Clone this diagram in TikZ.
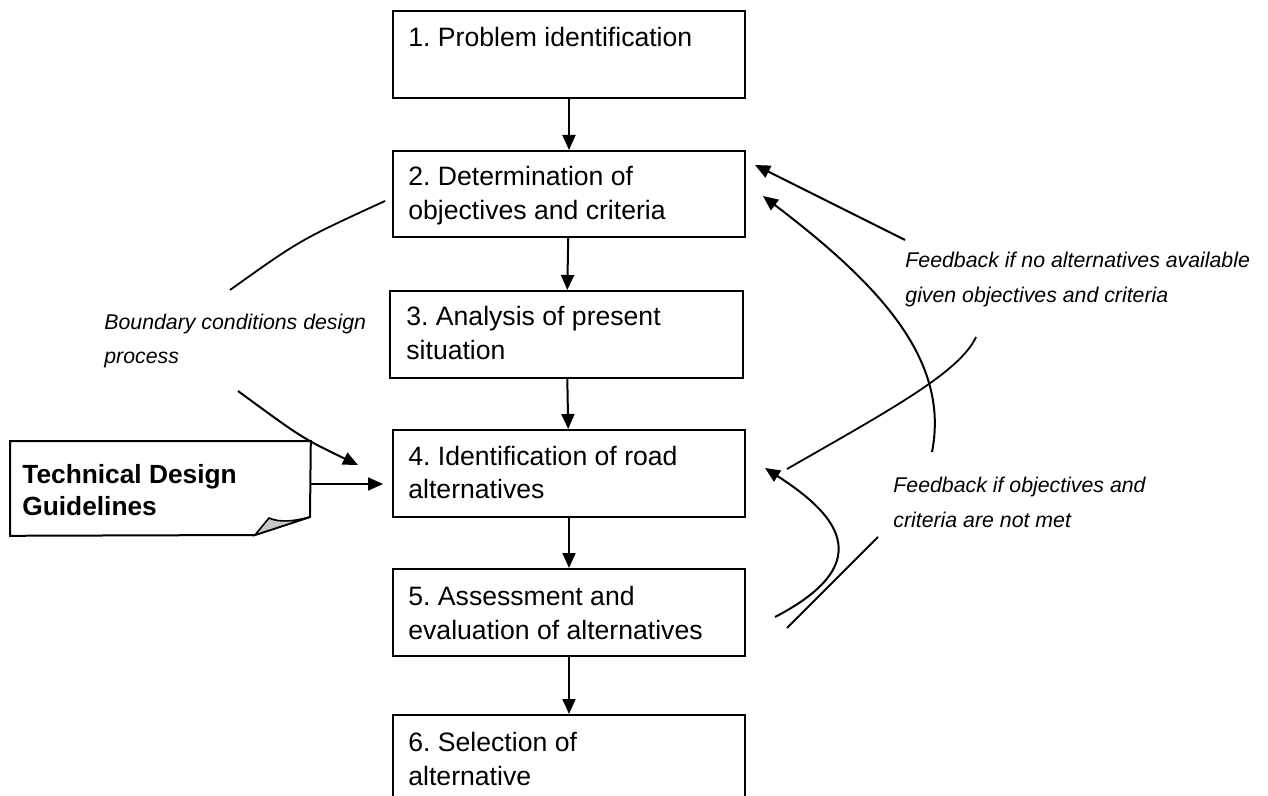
\documentclass[tikz,border=0pt]{standalone}
\usepackage{fontspec}
\setmainfont{Liberation Sans}
\usetikzlibrary{arrows.meta}
\frenchspacing
\newcommand\twolines[1]{\begin{tabular}[t]{@{}l@{}}#1\end{tabular}}
\begin{document}
\begin{tikzpicture}[x=0.5pt,y=-0.5pt,
  box/.style={draw, line width=1pt, rectangle, minimum width=176pt, minimum height=43.5pt, anchor=north west, inner sep=0pt},
  txt/.style={anchor=base west, inner sep=0pt, font=\fontsize{13.3pt}{17pt}\selectfont},
  lbl/.style={anchor=base west, inner sep=0pt, font=\fontsize{10.65pt}{17.5pt}\selectfont\itshape},
  arr/.style={line width=1pt, -{Triangle[length=7.5pt,width=6.5pt]}},
  ln/.style={line width=0.9pt}]
\useasboundingbox (0,0) rectangle (1268,796);
\clip (0,0) rectangle (1268,796);

% main boxes
\node[box] (b1) at (392,10) {};
\node[box, minimum height=43pt] (b2) at (392,150) {};
\node[box, minimum width=176.5pt] (b3) at (389,290) {};
\node[box] (b4) at (392,429) {};
\node[box] (b5) at (392,568) {};
\node[box, minimum height=45pt] (b6) at (392,714) {};

% box texts
\node[txt] (t1) at (408,47) {1. Problem identification};
\node[txt] (t2) at (408,186) {\twolines{2. Determination of\\objectives and criteria}};
\node[txt] (t3) at (406,326) {\twolines{3. Analysis of present\\situation}};
\node[txt] (t4) at (408,465) {\twolines{4. Identification of road\\alternatives}};
\node[txt] (t5) at (408,605) {\twolines{5. Assessment and\\evaluation of alternatives}};
\node[txt] (t6) at (408,751) {\twolines{6. Selection of\\alternative}};

% main flow
\draw[arr] (b1) -- (b2);
\draw[arr] (b2) -- (b3);
\draw[arr] (b3) -- (b4);
\draw[arr] (b4) -- (b5);
\draw[arr] (b5) -- (b6);

% technical design guidelines (folded note)
\node[minimum width=150pt, minimum height=47pt, anchor=north west, inner sep=0pt] (tdg) at (10,441) {};
\draw[line width=1pt, fill=white] (tdg.north west) -- (tdg.north east) -- (310,517) -- (255,535) -- (tdg.south west) -- cycle;
\draw[line width=0.8pt, fill=black!22] (255,535) -- (269,518) .. controls (280,523) and (295,521) .. (310,517) -- cycle;
\node[anchor=base west, inner sep=0pt, font=\fontsize{13.15pt}{16pt}\selectfont\bfseries] (tdgt) at (22,483) {\twolines{Technical Design\\Guidelines}};
\coordinate (tdgtip) at (383,484);
\draw[arr] (tdg.east |- tdgtip) -- (tdgtip);

% boundary conditions
\node[lbl, font=\fontsize{10.65pt}{17pt}\selectfont\itshape] (bc) at (104,330) {\twolines{Boundary conditions design\\process}};
\coordinate (bcA) at (385,201);
\coordinate (bcB) at (230,290);
\coordinate (bcC) at (238,391);
\coordinate (bcTip) at (358,465);
\draw[ln] (bcA) .. controls (300,240) .. (bcB);
\draw[arr] (bcC) .. controls (302,438) .. (bcTip);

% feedback labels
\node[lbl] (fb1) at (905,268) {\twolines{Feedback if no alternatives available\\given objectives and criteria}};
\node[lbl] (fb2) at (893,492) {\twolines{Feedback if objectives and\\criteria are not met}};

% feedback arrows
\coordinate (fA) at (905,240);
\coordinate (tipA) at (755,165);
\draw[arr] (fA) -- (tipA);
\coordinate (fB) at (932,452);
\coordinate (tipB) at (763,196);
\draw[arr] (fB) .. controls (950,360) and (880,285) .. (tipB);
\coordinate (fC) at (976,337);
\coordinate (endC) at (787,469);
\draw[ln] (fC) .. controls (960,372) and (890,410) .. (endC);
\coordinate (fD) at (775,617);
\coordinate (tipD) at (765,468);
\draw[arr] (fD) .. controls (885,560) and (830,510) .. (tipD);
\coordinate (eA) at (787,628);
\coordinate (eB) at (878,537);
\draw[ln] (eA) -- (eB);
\end{tikzpicture}
\end{document}
